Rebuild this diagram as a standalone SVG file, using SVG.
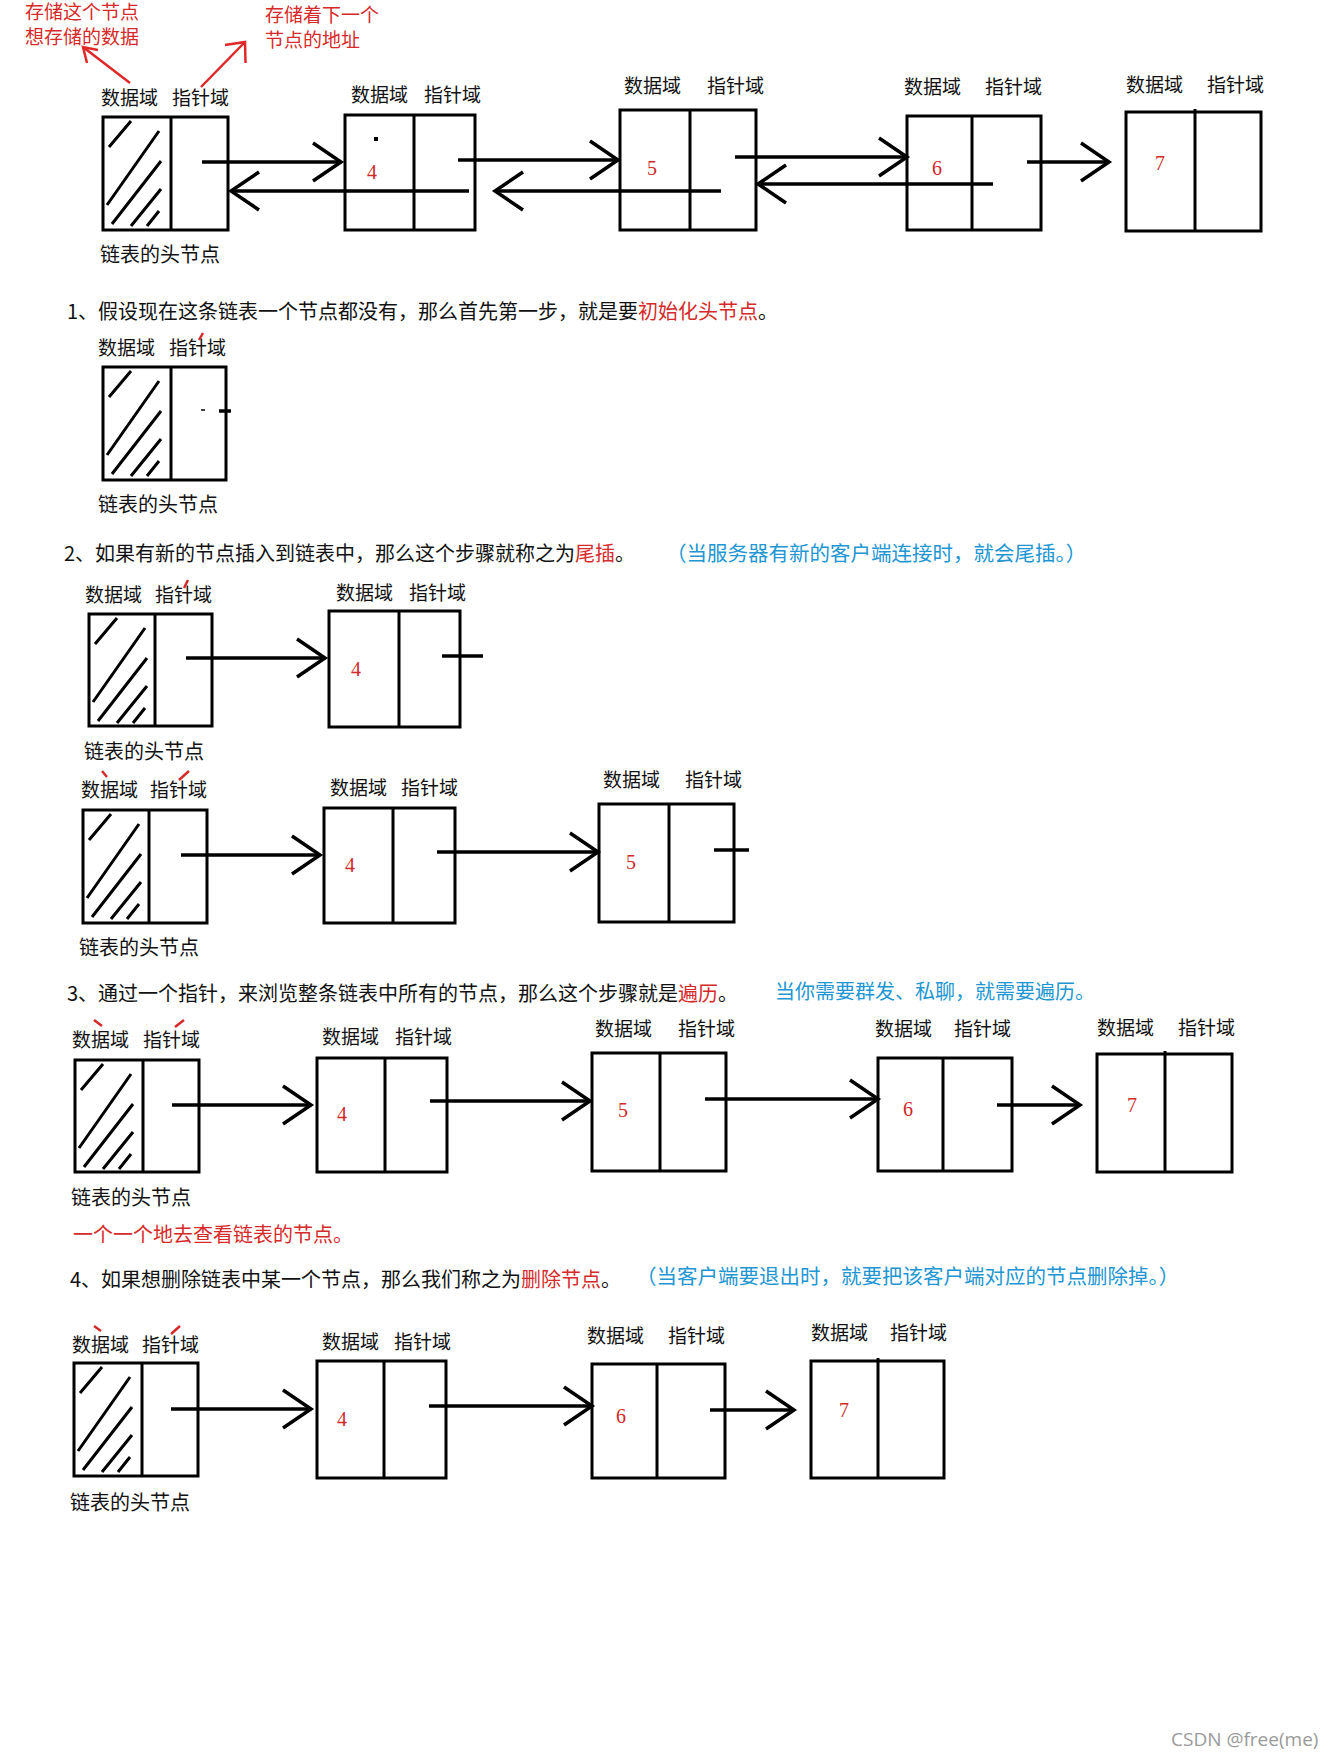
<svg xmlns="http://www.w3.org/2000/svg" width="1336" height="1760" viewBox="0 0 1336 1760">
<defs>
<style>
.bx{fill:none;stroke:#000;stroke-width:3}
.ar{fill:none;stroke:#000;stroke-width:3.5;marker-end:url(#ah)}
.ln{fill:none;stroke:#000;stroke-width:3.5}
.t{font-family:"Noto Sans CJK SC","Noto Sans",sans-serif;font-size:19px;fill:#111}
.s{font-size:20px}
.bl{font-size:20.5px}
.r{fill:#d62a2a}
.b{fill:#2196d3}
.n{font-family:"Liberation Serif",serif;font-size:20px;fill:#d02a2a;text-anchor:middle}
.h{fill:none;stroke:#000;stroke-width:3}
.rt{fill:none;stroke:#d42a2a;stroke-width:2.5}
.ra{fill:none;stroke:#e02828;stroke-width:2.5}
.wm{font-family:"Open Sans","Noto Sans",sans-serif;font-size:19px;fill:#9a9a9a}
</style>
<marker id="ah" viewBox="-34 -24 40 48" refX="0" refY="0" markerWidth="40" markerHeight="48" markerUnits="userSpaceOnUse" orient="auto">
<path d="M-28,-19 L0,0 L-28,19" fill="none" stroke="#000" stroke-width="3.5"/>
</marker>
<g id="hatch"><path class="h" d="M6,30 L28,4 M4,88 L56,14 M9,107 L58,44 M28,109 L58,72 M44,109 L56,94"/></g>
</defs>
<rect x="0" y="0" width="1336" height="1760" fill="#fff"/>

<!-- top annotations -->
<g id="annotations">
<text class="t r" x="25" y="19">存储这个节点</text>
<text class="t r" x="25" y="44">想存储的数据</text>
<text class="t r" x="265" y="22">存储着下一个</text>
<text class="t r" x="265" y="47">节点的地址</text>
<path class="ra" d="M130,83 L83,47 M98,50 L83,47 L87,63"/>
<path class="ra" d="M201,87 L245,42 M225,45 L245,42 L245.5,63"/>
</g>

<!-- top row -->
<g id="top-head">
<text class="t" x="101" y="105">数据域</text><text class="t" x="172" y="105">指针域</text>
<use href="#hatch" x="103" y="117"/>
<rect class="bx" x="103" y="117" width="125" height="113"/>
<line class="bx" x1="171" y1="117" x2="171" y2="230"/>
<text class="t s" x="100" y="262">链表的头节点</text>
</g>
<g id="top-node4">
<text class="t" x="351" y="102">数据域</text><text class="t" x="424" y="102">指针域</text>
<rect class="bx" x="345" y="115" width="130" height="115"/>
<line class="bx" x1="414" y1="115" x2="414" y2="230"/>
<rect x="374" y="137" width="4" height="4" fill="#000"/>
<text class="n" x="372" y="179">4</text>
</g>
<g id="top-node5">
<text class="t" x="624" y="93">数据域</text><text class="t" x="707" y="93">指针域</text>
<rect class="bx" x="620" y="110" width="136" height="120"/>
<line class="bx" x1="690" y1="110" x2="690" y2="230"/>
<text class="n" x="652" y="175">5</text>
</g>
<g id="top-node6">
<text class="t" x="904" y="94">数据域</text><text class="t" x="985" y="94">指针域</text>
<rect class="bx" x="907" y="116" width="134" height="114"/>
<line class="bx" x1="972" y1="116" x2="972" y2="230"/>
<text class="n" x="937" y="175">6</text>
</g>
<g id="top-node7">
<text class="t" x="1126" y="92">数据域</text><text class="t" x="1207" y="92">指针域</text>
<rect class="bx" x="1126" y="112" width="135" height="119"/>
<line class="bx" x1="1195" y1="109" x2="1195" y2="231"/>
<text class="n" x="1160" y="170">7</text>
</g>

<!-- section 1 -->
<g id="s1-text">
<text class="t s" x="67" y="319">1、假设现在这条链表一个节点都没有，那么首先第一步，就是要<tspan class="r">初始化头节点</tspan>。</text>
</g>
<g id="s1-head">
<text class="t" x="98" y="355">数据域</text><text class="t" x="169" y="355">指针域</text>
<path class="rt" d="M199,340 L203,333"/>
<use href="#hatch" x="103" y="367"/>
<rect class="bx" x="103" y="367" width="123" height="113"/>
<line class="bx" x1="171" y1="367" x2="171" y2="480"/>
<line x1="201" y1="410" x2="205" y2="410" stroke="#000" stroke-width="1.5"/>
<line x1="219" y1="411" x2="231" y2="411" stroke="#000" stroke-width="3.5"/>
<text class="t s" x="98" y="512">链表的头节点</text>
</g>

<!-- section 2 -->
<g id="s2-text">
<text class="t s" x="64" y="561">2、如果有新的节点插入到链表中，那么这个步骤就称之为<tspan class="r">尾插</tspan>。</text>
<text class="t b bl" x="666" y="561">（当服务器有新的客户端连接时，就会尾插。）</text>
</g>
<g id="s2a-head">
<text class="t" x="85" y="602">数据域</text><text class="t" x="155" y="602">指针域</text>
<path class="rt" d="M184,588 L188,580"/>
<use href="#hatch" x="89" y="614"/>
<rect class="bx" x="89" y="614" width="123" height="112"/>
<line class="bx" x1="155" y1="614" x2="155" y2="726"/>
<text class="t s" x="84" y="759">链表的头节点</text>
</g>
<g id="s2a-node4">
<text class="t" x="336" y="600">数据域</text><text class="t" x="409" y="600">指针域</text>
<rect class="bx" x="329" y="611" width="131" height="116"/>
<line class="bx" x1="399" y1="611" x2="399" y2="727"/>
<text class="n" x="356" y="676">4</text>
<line class="ln" x1="442" y1="656" x2="483" y2="656"/>
</g>
<g id="s2b-head">
<text class="t" x="81" y="797">数据域</text><text class="t" x="150" y="797">指针域</text>
<path class="rt" d="M102,771 L107,777 M179,780 L189,771"/>
<use href="#hatch" x="83" y="810"/>
<rect class="bx" x="83" y="810" width="124" height="113"/>
<line class="bx" x1="149" y1="810" x2="149" y2="923"/>
<text class="t s" x="79" y="955">链表的头节点</text>
</g>
<g id="s2b-node4">
<text class="t" x="330" y="795">数据域</text><text class="t" x="401" y="795">指针域</text>
<rect class="bx" x="324" y="808" width="131" height="115"/>
<line class="bx" x1="393" y1="808" x2="393" y2="923"/>
<text class="n" x="350" y="872">4</text>
</g>
<g id="s2b-node5">
<text class="t" x="603" y="787">数据域</text><text class="t" x="685" y="787">指针域</text>
<rect class="bx" x="599" y="804" width="135" height="118"/>
<line class="bx" x1="669" y1="804" x2="669" y2="922"/>
<text class="n" x="631" y="869">5</text>
<line class="ln" x1="714" y1="850" x2="749" y2="850"/>
</g>

<!-- section 3 -->
<g id="s3-text">
<text class="t s" x="67" y="1001">3、通过一个指针，来浏览整条链表中所有的节点，那么这个步骤就是<tspan class="r">遍历</tspan>。</text>
<text class="t b s" x="775" y="999">当你需要群发、私聊，就需要遍历。</text>
<text class="t r s" x="73" y="1242">一个一个地去查看链表的节点。</text>
</g>
<g id="s3-head">
<text class="t" x="72" y="1047">数据域</text><text class="t" x="143" y="1047">指针域</text>
<path class="rt" d="M94,1020 L102,1026 M175,1027 L184,1020"/>
<use href="#hatch" x="75" y="1060"/>
<rect class="bx" x="75" y="1060" width="124" height="112"/>
<line class="bx" x1="143" y1="1060" x2="143" y2="1172"/>
<text class="t s" x="71" y="1205">链表的头节点</text>
</g>
<g id="s3-node4">
<text class="t" x="322" y="1044">数据域</text><text class="t" x="395" y="1044">指针域</text>
<rect class="bx" x="317" y="1058" width="130" height="114"/>
<line class="bx" x1="385" y1="1058" x2="385" y2="1172"/>
<text class="n" x="342" y="1121">4</text>
</g>
<g id="s3-node5">
<text class="t" x="595" y="1036">数据域</text><text class="t" x="678" y="1036">指针域</text>
<rect class="bx" x="592" y="1053" width="134" height="118"/>
<line class="bx" x1="660" y1="1053" x2="660" y2="1171"/>
<text class="n" x="623" y="1117">5</text>
</g>
<g id="s3-node6">
<text class="t" x="875" y="1036">数据域</text><text class="t" x="954" y="1036">指针域</text>
<rect class="bx" x="878" y="1058" width="134" height="113"/>
<line class="bx" x1="943" y1="1058" x2="943" y2="1171"/>
<text class="n" x="908" y="1116">6</text>
</g>
<g id="s3-node7">
<text class="t" x="1097" y="1035">数据域</text><text class="t" x="1178" y="1035">指针域</text>
<rect class="bx" x="1097" y="1054" width="135" height="118"/>
<line class="bx" x1="1165" y1="1051" x2="1165" y2="1172"/>
<text class="n" x="1132" y="1112">7</text>
</g>

<!-- section 4 -->
<g id="s4-text">
<text class="t s" x="70" y="1287">4、如果想删除链表中某一个节点，那么我们称之为<tspan class="r">删除节点</tspan>。</text>
<text class="t b bl" x="636" y="1284">（当客户端要退出时，就要把该客户端对应的节点删除掉。）</text>
</g>
<g id="s4-head">
<text class="t" x="72" y="1352">数据域</text><text class="t" x="142" y="1352">指针域</text>
<path class="rt" d="M94,1326 L101,1331 M171,1334 L180,1326"/>
<use href="#hatch" x="74" y="1363"/>
<rect class="bx" x="74" y="1363" width="124" height="113"/>
<line class="bx" x1="142" y1="1363" x2="142" y2="1476"/>
<text class="t s" x="70" y="1510">链表的头节点</text>
</g>
<g id="s4-node4">
<text class="t" x="322" y="1349">数据域</text><text class="t" x="394" y="1349">指针域</text>
<rect class="bx" x="317" y="1361" width="129" height="117"/>
<line class="bx" x1="384" y1="1361" x2="384" y2="1478"/>
<text class="n" x="342" y="1426">4</text>
</g>
<g id="s4-node6">
<text class="t" x="587" y="1343">数据域</text><text class="t" x="668" y="1343">指针域</text>
<rect class="bx" x="592" y="1364" width="133" height="114"/>
<line class="bx" x1="657" y1="1364" x2="657" y2="1478"/>
<text class="n" x="621" y="1423">6</text>
</g>
<g id="s4-node7">
<text class="t" x="811" y="1340">数据域</text><text class="t" x="890" y="1340">指针域</text>
<rect class="bx" x="811" y="1361" width="133" height="117"/>
<line class="bx" x1="878" y1="1358" x2="878" y2="1478"/>
<text class="n" x="844" y="1417">7</text>
</g>

<!-- connectors -->
<g id="connectors">
<path class="ar" d="M202,162 H341"/>
<path class="ar" d="M469,191 H231"/>
<path class="ar" d="M458,160 H618"/>
<path class="ar" d="M721,191 H495"/>
<path class="ar" d="M735,157 H907"/>
<path class="ar" d="M993,184 H758"/>
<path class="ar" d="M1027,162 H1109"/>

<path class="ar" d="M186,658 H325"/>
<path class="ar" d="M181,855 H320"/>
<path class="ar" d="M437,852 H598"/>

<path class="ar" d="M172,1105 H311"/>
<path class="ar" d="M430,1101 H590"/>
<path class="ar" d="M705,1099 H878"/>
<path class="ar" d="M997,1105 H1080"/>

<path class="ar" d="M171,1409 H311"/>
<path class="ar" d="M429,1406 H592"/>
<path class="ar" d="M710,1410 H794"/>
</g>

<text class="wm" x="1171" y="1746">CSDN @free(me)</text>
</svg>
